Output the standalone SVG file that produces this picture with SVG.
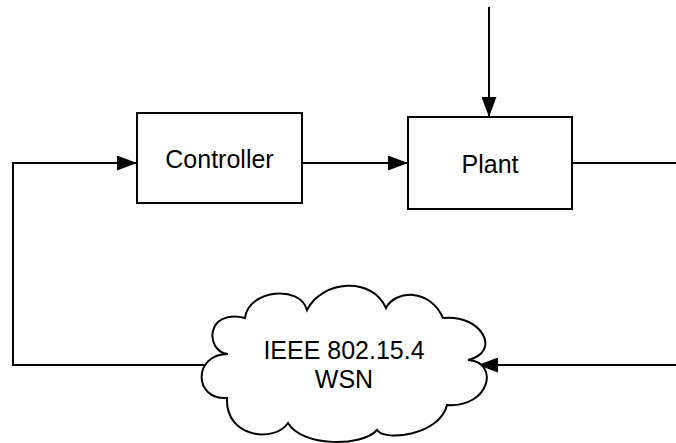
<svg xmlns="http://www.w3.org/2000/svg" width="676" height="443" viewBox="0 0 676 443">
<style>
.box{fill:#fff;stroke:#000;stroke-width:2}
.cloud{fill:#fff;stroke:#000;stroke-width:2;stroke-linejoin:miter}
.lbl{font-family:"Liberation Sans",Arial,sans-serif;font-size:25px;fill:#000;text-anchor:middle}
.wire{fill:none;stroke:#000;stroke-width:2}
</style>
<defs>
<marker id="ah" viewBox="0 0 20 15" refX="20" refY="7.5" markerWidth="20" markerHeight="15" markerUnits="userSpaceOnUse" orient="auto">
<path d="M0,0 L20,7.5 L0,15 z" fill="#000"/>
</marker>
</defs>
<g id="connectors">
<path class="wire" d="M489,7 L489,117" marker-end="url(#ah)"/>
<path class="wire" d="M302,163 L408,163" marker-end="url(#ah)"/>
<path class="wire" d="M572,163 L676,163"/>
<path class="wire" d="M676,365 L478,365" marker-end="url(#ah)"/>
<path class="wire" d="M206,365 L13,365 L13,163 L137,163" marker-end="url(#ah)"/>
</g>
<g id="controller">
<rect class="box" x="137" y="113" width="165" height="90"/>
<text class="lbl" x="219.5" y="168">Controller</text>
</g>
<g id="plant">
<rect class="box" x="408" y="117" width="164" height="92"/>
<text class="lbl" x="490" y="172.5">Plant</text>
</g>
<g id="wsn">
<path class="cloud" d="M228,354 C205,352 205,308 245,318 C248,290 300,284 307,310 C322,280 372,276 386,308 C395,290 430,288 443,318 C482,314 502,352 468,360 C500,362 490,408 447,405 C440,435 385,442 377,430 C362,447 302,447 288,423 C275,443 225,438 227,398 C193,400 193,354 228,354 Z"/>
<text class="lbl" x="344" y="359">IEEE 802.15.4</text>
<text class="lbl" x="344" y="388">WSN</text>
</g>
</svg>
